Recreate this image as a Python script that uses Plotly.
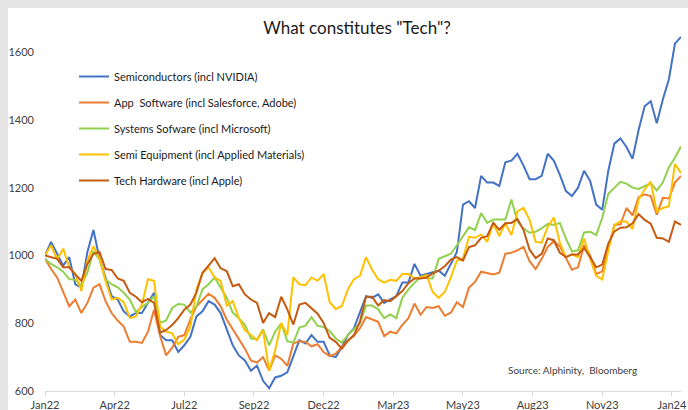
import plotly.graph_objects as go

# Weekly observations (week index 0 = start Jan 2022), indexed to 1000
weeks = list(range(106))

semiconductors = [1000, 1040, 1005, 970, 995, 915, 905, 1010, 1075, 990,
                  935, 880, 870, 835, 820, 830, 830, 860, 890, 765,
                  750, 750, 715, 735, 760, 820, 835, 865, 855, 830,
                  785, 735, 705, 690, 660, 675, 630, 608, 640, 645,
                  655, 700, 750, 740, 765, 745, 745, 705, 700, 730,
                  765, 785, 830, 880, 875, 885, 860, 870, 880, 920,
                  920, 975, 940, 945, 950, 955, 940, 975, 1010, 1150,
                  1160, 1140, 1235, 1215, 1215, 1205, 1275, 1280, 1300, 1265,
                  1225, 1225, 1235, 1300, 1280, 1238, 1190, 1175, 1200, 1250,
                  1220, 1150, 1135, 1250, 1330, 1345, 1320, 1285, 1370, 1440,
                  1455, 1390, 1460, 1520, 1625, 1645]

app_software = [990, 960, 935, 895, 850, 870, 830, 860, 905, 915,
                865, 830, 808, 790, 745, 745, 742, 775, 840, 762,
                705, 728, 760, 765, 811, 850, 870, 887, 875, 850,
                811, 782, 755, 725, 690, 684, 700, 660, 705, 695,
                674, 740, 747, 745, 732, 738, 715, 703, 710, 730,
                750, 762, 785, 818, 811, 804, 762, 775, 770, 795,
                815, 858, 825, 848, 845, 850, 822, 831, 862, 848,
                905, 922, 952, 949, 944, 949, 1005, 1008, 1015, 1025,
                983, 960, 990, 1025, 1042, 1027, 990, 958, 965, 1030,
                1000, 945, 953, 1025, 1090, 1092, 1140, 1118, 1172, 1180,
                1175, 1120, 1170, 1168, 1215, 1235]

systems_software = [990, 975, 965, 952, 930, 928, 912, 950, 1012, 988,
                    929, 915, 906, 890, 870, 833, 848, 860, 880, 801,
                    808, 845, 857, 855, 831, 850, 900, 915, 935, 905,
                    875, 831, 815, 795, 755, 752, 782, 735, 775, 800,
                    747, 743, 787, 793, 818, 792, 789, 777, 755, 743,
                    765, 782, 800, 852, 852, 841, 815, 826, 815, 875,
                    900, 919, 936, 933, 932, 990, 998, 1005, 1030, 1057,
                    1083, 1075, 1125, 1096, 1106, 1106, 1106, 1165, 1100, 1080,
                    1067, 1070, 1080, 1093, 1090, 1096, 1050, 1012, 1015, 1068,
                    1070, 1060, 1111, 1182, 1199, 1217, 1212, 1200, 1196, 1204,
                    1213, 1192, 1215, 1260, 1288, 1322]

semi_equipment = [1000, 1030, 988, 1020, 965, 945, 895, 985, 1027, 990,
                  925, 870, 875, 862, 815, 820, 855, 930, 925, 790,
                  775, 770, 738, 752, 790, 900, 948, 965, 935, 925,
                  852, 865, 815, 780, 765, 750, 780, 660, 720, 800,
                  765, 935, 915, 912, 935, 925, 945, 862, 842, 850,
                  900, 930, 940, 995, 958, 930, 920, 928, 925, 945,
                  945, 932, 936, 942, 892, 875, 892, 935, 985, 990,
                  1055, 1052, 1062, 1040, 1095, 1057, 1095, 1060, 1130, 1140,
                  1105, 1040, 1038, 1085, 1112, 1037, 995, 1003, 995, 1050,
                  990, 940, 929, 1015, 1090, 1100, 1100, 1078, 1165, 1195,
                  1218, 1130, 1140, 1145, 1270, 1243]

tech_hardware = [1000, 995, 990, 965, 965, 944, 925, 975, 1005, 1010,
                 960, 957, 932, 925, 890, 878, 862, 872, 860, 772,
                 780, 795, 815, 840, 855, 890, 949, 970, 992, 962,
                 954, 909, 915, 885, 870, 860, 801, 830, 818, 878,
                 841, 796, 855, 860, 843, 828, 801, 757, 745, 725,
                 748, 765, 805, 878, 878, 852, 868, 865, 880, 895,
                 918, 932, 932, 935, 947, 955, 968, 988, 995, 985,
                 1025, 1030, 1052, 1057, 1096, 1076, 1095, 1096, 1108, 1075,
                 1017, 992, 1005, 1050, 1045, 1008, 995, 1003, 1003, 1022,
                 995, 965, 973, 1035, 1071, 1082, 1083, 1095, 1122, 1105,
                 1094, 1052, 1050, 1040, 1100, 1090]

series_names = ["Semiconductors (incl NVIDIA)",
                "App  Software (incl Salesforce, Adobe)",
                "Systems Sofware (incl Microsoft)",
                "Semi Equipment (incl Applied Materials)",
                "Tech Hardware (incl Apple)"]
series_colors = ["#4472C4", "#ED7D31", "#92D050", "#FFC000", "#C55A11"]

tick_weeks = [0, 11.5, 23, 34.5, 46, 57.5, 69, 80.5, 92, 103.5]
tick_labels = ["Jan22", "Apr22", "Jul22", "Sep22", "Dec22",
               "Mar23", "May23", "Aug23", "Nov23", "Jan24"]
y_ticks = [600, 800, 1000, 1200, 1400, 1600]

FONT = "Lato"

fig = go.Figure()
for name, vals, col in zip(series_names,
                           [semiconductors, app_software, systems_software,
                            semi_equipment, tech_hardware],
                           series_colors):
    fig.add_trace(go.Scatter(x=weeks, y=vals, mode="lines", name=name,
                             legendgroup=name, hoverinfo="skip",
                             line=dict(color=col, width=2)))

fig.update_layout(
    width=688, height=410,
    margin=dict(l=45, r=7, t=25, b=19, autoexpand=False),
    paper_bgcolor="#e4e4e4",
    plot_bgcolor="white",
    hovermode=False,
    font=dict(family=FONT, size=11, color="#404040"),
    title=dict(text='What constitutes "Tech"?', x=0.519, xanchor="center",
               y=1 - 28 / 410, yanchor="middle", yref="container",
               font=dict(family=FONT, size=17, color="#1a1a1a")),
    showlegend=True,
    legend=dict(x=(74 - 45) / 636, xanchor="left", y=(391 - 62) / 366,
                yanchor="top", bgcolor="rgba(0,0,0,0)",
                font=dict(family=FONT, size=11, color="#1a1a1a"),
                tracegroupgap=7),
    xaxis=dict(range=[0, 105], tickvals=tick_weeks, ticktext=tick_labels,
               automargin=False,
               showgrid=False, zeroline=False, showline=True,
               linecolor="#d9d9d9", linewidth=1, ticks="outside", ticklen=4,
               tickcolor="#d9d9d9", tickfont=dict(size=11, color="#404040")),
    yaxis=dict(range=[600, 1680], tickvals=y_ticks, showgrid=False,
               automargin=False,
               zeroline=False, showline=False, ticks="",
               ticklabelstandoff=10, tickfont=dict(size=11, color="#404040")),
    shapes=[dict(type="rect", xref="paper", yref="paper",
                 x0=(8 - 45) / 636, x1=(690 - 45) / 636,
                 y0=(391 - 412) / 366, y1=(391 - 8) / 366,
                 fillcolor="white", line=dict(width=0), layer="below")],
    annotations=[dict(text="Source: Alphinity,  Bloomberg", xref="paper",
                      yref="paper", x=(572 - 45) / 636, y=(391 - 370) / 366,
                      xanchor="center", yanchor="middle", showarrow=False,
                      font=dict(family=FONT, size=10, color="#404040"))],
)

fig.write_html("out.html",
               config={"displayModeBar": False, "staticPlot": True},
               post_script="document.body.style.margin='0';"
                           "document.body.style.overflow='hidden';")
